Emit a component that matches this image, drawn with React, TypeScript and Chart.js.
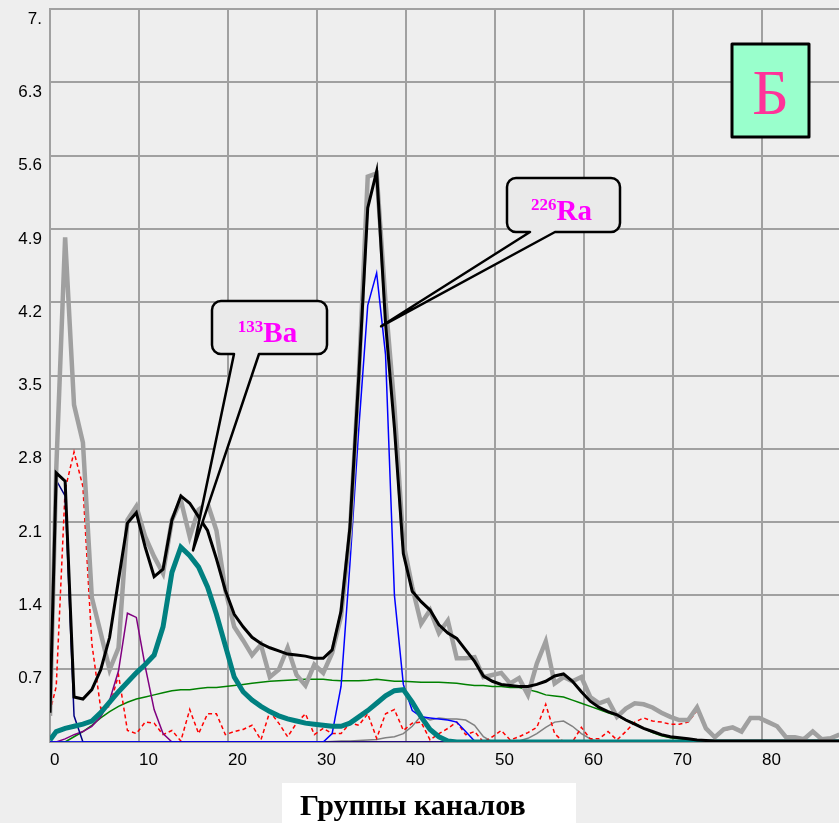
import React, { useEffect, useRef } from 'react';
import { Chart, registerables } from 'chart.js';

Chart.register(...registerables);

// Channel-group positions of the samples (first sample sits at the axis origin)
const CHANNELS = [0,
  0.7, 1.7, 2.7, 3.7, 4.7, 5.7, 6.7, 7.7, 8.7, 9.7,
  10.7, 11.7, 12.7, 13.7, 14.7, 15.7, 16.7, 17.7, 18.7, 19.7,
  20.7, 21.7, 22.7, 23.7, 24.7, 25.7, 26.7, 27.7, 28.7, 29.7,
  30.7, 31.7, 32.7, 33.7, 34.7, 35.7, 36.7, 37.7, 38.7, 39.7,
  40.7, 41.7, 42.7, 43.7, 44.7, 45.7, 46.7, 47.7, 48.7, 49.7,
  50.7, 51.7, 52.7, 53.7, 54.7, 55.7, 56.7, 57.7, 58.7, 59.7,
  60.7, 61.7, 62.7, 63.7, 64.7, 65.7, 66.7, 67.7, 68.7, 69.7,
  70.7, 71.7, 72.7, 73.7, 74.7, 75.7, 76.7, 77.7, 78.7, 79.7,
  80.7, 81.7, 82.7, 83.7, 84.7, 85.7, 86.7, 87.7, 88.7];

// Measured spectrum (thick grey)
const MEASURED = [0.25,
  2.6, 4.82, 3.22, 2.86, 1.38, 1.04, 0.69, 0.9, 2.12, 2.25,
  1.96, 1.77, 1.61, 2.12, 2.31, 1.96, 2.22, 2.28, 2.02, 1.45,
  1.1, 0.97, 0.83, 0.93, 0.62, 0.69, 0.9, 0.64, 0.54, 0.74,
  0.66, 0.85, 1.2, 2.0, 3.5, 5.4, 5.43, 4.2, 3.2, 1.9,
  1.48, 1.13, 1.26, 1.04, 1.16, 0.8, 0.8, 0.81, 0.62, 0.64,
  0.66, 0.56, 0.61, 0.45, 0.75, 0.96, 0.56, 0.62, 0.58, 0.62,
  0.43, 0.37, 0.4, 0.24, 0.32, 0.37, 0.36, 0.33, 0.28, 0.24,
  0.21, 0.21, 0.33, 0.13, 0.045, 0.12, 0.14, 0.1, 0.23, 0.23,
  0.19, 0.15, 0.045, 0.045, 0.026, 0.1, 0.026, 0.035, 0.07];

// Total fit (black)
const FIT_TOTAL = [0.28,
  2.57, 2.49, 0.43, 0.41, 0.5, 0.69, 1.0, 1.55, 2.09, 2.19,
  1.86, 1.58, 1.65, 2.12, 2.35, 2.28, 2.15, 2.02, 1.75, 1.45,
  1.22, 1.1, 1.0, 0.94, 0.9, 0.87, 0.84, 0.83, 0.82, 0.8,
  0.8, 0.88, 1.25, 2.05, 3.5, 5.1, 5.45, 4.0, 3.0, 1.8,
  1.44, 1.34, 1.26, 1.12, 1.04, 0.99, 0.88, 0.77, 0.63, 0.58,
  0.55, 0.54, 0.53, 0.53, 0.55, 0.58, 0.63, 0.65, 0.58, 0.48,
  0.39, 0.33, 0.29, 0.26, 0.21, 0.17, 0.13, 0.1, 0.07, 0.05,
  0.04, 0.03, 0.02, 0.015, 0.01, 0.01, 0.01, 0.01, 0.01, 0.01,
  0.01, 0.01, 0.01, 0.01, 0.01, 0.01, 0.01, 0.01, 0.01];

// 133Ba component (teal)
const BA133 = [0.02,
  0.1, 0.13, 0.15, 0.17, 0.2, 0.28, 0.38, 0.48, 0.57, 0.66,
  0.74, 0.83, 1.1, 1.62, 1.86, 1.78, 1.67, 1.48, 1.22, 0.92,
  0.62, 0.48, 0.4, 0.34, 0.29, 0.25, 0.22, 0.2, 0.18, 0.17,
  0.16, 0.15, 0.15, 0.18, 0.24, 0.3, 0.37, 0.44, 0.49, 0.5,
  0.38, 0.24, 0.12, 0.05, 0.01, 0, 0, 0, 0, 0,
  0, 0, 0, 0, 0, 0, 0, 0, 0, 0,
  0, 0, 0, 0, 0, 0, 0, 0, 0, 0,
  0, 0, 0, 0, 0, 0, 0, 0, 0, 0,
  0, 0, 0, 0, 0, 0, 0, 0, 0];

// 226Ra component (blue)
const RA226 = [0,
  0, 0, 0, 0, 0, 0, 0, 0, 0, 0,
  0, 0, 0, 0, 0, 0, 0, 0, 0, 0,
  0, 0, 0, 0, 0, 0, 0, 0, 0, 0,
  0, 0.08, 0.53, 1.7, 3.0, 4.17, 4.48, 3.7, 1.4, 0.55,
  0.3, 0.24, 0.23, 0.22, 0.21, 0.19, 0.1, 0.01, 0, 0,
  0, 0, 0, 0, 0, 0, 0, 0, 0, 0,
  0, 0, 0, 0, 0, 0, 0, 0, 0, 0,
  0, 0, 0, 0, 0, 0, 0, 0, 0, 0,
  0, 0, 0, 0, 0, 0, 0, 0, 0];

// Low-energy component (navy)
const LOW_PEAK = [0.28,
  2.5, 2.35, 0.25, 0, 0, 0, 0, 0, 0, 0,
  0, 0, 0, 0, 0, 0, 0, 0, 0, 0,
  0, 0, 0, 0, 0, 0, 0, 0, 0, 0,
  0, 0, 0, 0, 0, 0, 0, 0, 0, 0,
  0, 0, 0, 0, 0, 0, 0, 0, 0, 0,
  0, 0, 0, 0, 0, 0, 0, 0, 0, 0,
  0, 0, 0, 0, 0, 0, 0, 0, 0, 0,
  0, 0, 0, 0, 0, 0, 0, 0, 0, 0,
  0, 0, 0, 0, 0, 0, 0, 0, 0];

// Component near channel 9 (purple)
const MID_PEAK = [0,
  0, 0.03, 0.07, 0.1, 0.15, 0.24, 0.4, 0.68, 1.23, 1.19,
  0.72, 0.31, 0.08, 0, 0, 0, 0, 0, 0, 0,
  0, 0, 0, 0, 0, 0, 0, 0, 0, 0,
  0, 0, 0, 0, 0, 0, 0, 0, 0, 0,
  0, 0, 0, 0, 0, 0, 0, 0, 0, 0,
  0, 0, 0, 0, 0, 0, 0, 0, 0, 0,
  0, 0, 0, 0, 0, 0, 0, 0, 0, 0,
  0, 0, 0, 0, 0, 0, 0, 0, 0, 0,
  0, 0, 0, 0, 0, 0, 0, 0, 0];

// Residual (red dashed)
const RESIDUAL = [0.29,
  0.53, 2.41, 2.77, 2.44, 0.94, 0.32, 0.34, 0.64, 0.11, 0.08,
  0.19, 0.18, 0.07, 0.11, 0.01, 0.31, 0.08, 0.27, 0.27, 0.07,
  0.1, 0.12, 0.16, 0.02, 0.29, 0.18, 0.05, 0.18, 0.27, 0.07,
  0.13, 0.08, 0.08, 0.18, 0.16, 0.27, 0.035, 0.27, 0.31, 0.11,
  0.18, 0.19, 0.02, 0.08, 0.13, 0.19, 0.07, 0.1, 0.0, 0.05,
  0.11, 0.02, 0.05, 0.09, 0.14, 0.36, 0.08, 0.0, 0.0, 0.14,
  0.03, 0.03, 0.1, 0.02, 0.1, 0.19, 0.23, 0.2, 0.19, 0.17,
  0.17, 0.19, 0.3, 0.12, 0.04, 0.11, 0.13, 0.09, 0.22, 0.22,
  0.18, 0.14, 0.04, 0.04, 0.02, 0.09, 0.02, 0.03, 0.06];

// Continuum background (green)
const BACKGROUND = [0,
  0, 0, 0.05, 0.1, 0.16, 0.23, 0.29, 0.34, 0.38, 0.41,
  0.43, 0.45, 0.47, 0.49, 0.5, 0.5, 0.51, 0.52, 0.52, 0.53,
  0.54, 0.55, 0.56, 0.57, 0.58, 0.585, 0.59, 0.595, 0.6, 0.6,
  0.6, 0.59, 0.585, 0.585, 0.585, 0.59, 0.6, 0.59, 0.58, 0.58,
  0.575, 0.57, 0.57, 0.57, 0.565, 0.56, 0.55, 0.54, 0.54, 0.53,
  0.53, 0.52, 0.52, 0.5, 0.48, 0.45, 0.44, 0.43, 0.4, 0.37,
  0.34, 0.31, 0.28, 0.25, 0.21, 0.18, 0.13, 0.09, 0.06, 0.04,
  0.03, 0.02, 0.01, 0, 0, 0, 0, 0, 0, 0,
  0, 0, 0, 0, 0, 0, 0, 0, 0];

// Other component (thin grey)
const OTHER = [0,
  0, 0, 0, 0, 0, 0, 0, 0, 0, 0,
  0, 0, 0, 0, 0, 0, 0, 0, 0, 0,
  0, 0, 0, 0, 0, 0, 0, 0, 0, 0,
  0, 0.005, 0.01, 0.01, 0.015, 0.02, 0.025, 0.04, 0.05, 0.08,
  0.15, 0.25, 0.21, 0.23, 0.22, 0.22, 0.21, 0.16, 0.05, 0,
  0, 0, 0.01, 0.035, 0.08, 0.14, 0.19, 0.2, 0.15, 0.08,
  0.03, 0, 0, 0, 0, 0, 0, 0, 0, 0,
  0, 0, 0, 0, 0, 0, 0, 0, 0, 0,
  0, 0, 0, 0, 0, 0, 0, 0, 0];

const X_TICKS = [0, 10, 20, 30, 40, 50, 60, 70, 80];
const X_LABELS = ['0', '10', '20', '30', '40', '50', '60', '70', '80'];
const Y_TICKS = [0, 0.7, 1.4, 2.1, 2.8, 3.5, 4.2, 4.9, 5.6, 6.3, 7];
const Y_LABELS = ['', '0.7', '1.4', '2.1', '2.8', '3.5', '4.2', '4.9', '5.6', '6.3', '7.'];
const X_TITLE = 'Группы каналов';
const PANEL_LETTER = 'Б';
const CALLOUTS = [
  { sup: '133', main: 'Ba', tipX: 16.07, tipY: 1.83 },
  { sup: '226', main: 'Ra', tipX: 37.2, tipY: 3.97 },
];

const toPoints = (vals: number[]) => vals.map((v, i) => ({ x: CHANNELS[i], y: v }));

const SERIF = '"Liberation Serif", "Times New Roman", serif';
const SANS = '"Liberation Sans", Arial, sans-serif';

function roundedCallout(ctx: CanvasRenderingContext2D, x: number, y: number, w: number, h: number, r: number,
  b1: number, b2: number, tx: number, ty: number) {
  ctx.beginPath();
  ctx.moveTo(x + r, y);
  ctx.lineTo(x + w - r, y);
  ctx.arcTo(x + w, y, x + w, y + r, r);
  ctx.lineTo(x + w, y + h - r);
  ctx.arcTo(x + w, y + h, x + w - r, y + h, r);
  ctx.lineTo(b2, y + h);
  ctx.lineTo(tx, ty);
  ctx.lineTo(b1, y + h);
  ctx.lineTo(x + r, y + h);
  ctx.arcTo(x, y + h, x, y + h - r, r);
  ctx.lineTo(x, y + r);
  ctx.arcTo(x, y, x + r, y, r);
  ctx.closePath();
  ctx.fillStyle = '#EAEAEA';
  ctx.fill();
  ctx.lineWidth = 2.5;
  ctx.strokeStyle = '#000000';
  ctx.lineJoin = 'round';
  ctx.stroke();
}

const annotations = {
  id: 'annotations',
  afterDraw(chart: any) {
    const ctx: CanvasRenderingContext2D = chart.ctx;
    const xs = chart.scales.x;
    const ys = chart.scales.y;
    ctx.save();

    // Callouts
    const boxes = [
      { x: 212, y: 301, w: 115, h: 53, b1: 234, b2: 259 },
      { x: 507, y: 178, w: 113, h: 54, b1: 530, b2: 555 },
    ];
    CALLOUTS.forEach((c, k) => {
      const b = boxes[k];
      const tx = xs.getPixelForValue(c.tipX);
      const ty = ys.getPixelForValue(c.tipY);
      roundedCallout(ctx, b.x, b.y, b.w, b.h, 9, b.b1, b.b2, tx, ty);
      ctx.fillStyle = '#FF00FF';
      ctx.textBaseline = 'alphabetic';
      ctx.textAlign = 'left';
      const supFont = `bold 17px ${SERIF}`;
      const mainFont = `bold 29px ${SERIF}`;
      ctx.font = supFont;
      const ws = ctx.measureText(c.sup).width;
      ctx.font = mainFont;
      const wm = ctx.measureText(c.main).width;
      const start = b.x + b.w / 2 - (ws + wm) / 2 - 2;
      const base = b.y + b.h - 12;
      ctx.font = supFont;
      ctx.fillText(c.sup, start, base - 10);
      ctx.font = mainFont;
      ctx.fillText(c.main, start + ws, base);
    });

    // Panel letter box
    ctx.fillStyle = '#99FFCC';
    ctx.fillRect(732, 44, 77, 93);
    ctx.lineWidth = 3;
    ctx.strokeStyle = '#000000';
    ctx.strokeRect(732, 44, 77, 93);
    ctx.fillStyle = '#FF3399';
    ctx.font = `64px ${SERIF}`;
    ctx.textAlign = 'center';
    ctx.textBaseline = 'alphabetic';
    ctx.fillText(PANEL_LETTER, 770.5, 114);

    // Axis title in white box
    ctx.fillStyle = '#FFFFFF';
    ctx.fillRect(282, 783, 294, 45);
    ctx.fillStyle = '#000000';
    ctx.font = `bold 30px ${SERIF}`;
    ctx.textAlign = 'left';
    ctx.fillText(X_TITLE, 300, 815);

    ctx.restore();
  },
};

export default function App() {
  const ref = useRef<HTMLCanvasElement>(null);
  useEffect(() => {
    document.body.style.margin = '0';
    document.body.style.background = '#EEEEEE';
    const line = (label: string, vals: number[], color: string, width: number, dash: number[] = []) => ({
      label,
      data: toPoints(vals),
      borderColor: color,
      backgroundColor: color,
      borderWidth: width,
      borderDash: dash,
      pointRadius: 0,
      tension: 0,
      fill: false,
    });
    const chart = new Chart(ref.current as HTMLCanvasElement, {
      type: 'line',
      data: {
        datasets: [
          line('Total fit', FIT_TOTAL, '#000000', 3),
          line('Measured', MEASURED, '#A0A0A0', 4.5),
          line('133Ba', BA133, '#008080', 5),
          line('226Ra', RA226, '#0000FF', 1.5),
          line('Low', LOW_PEAK, '#000080', 1.5),
          line('Mid', MID_PEAK, '#800080', 1.5),
          line('Residual', RESIDUAL, '#FF0000', 1.5, [4, 3]),
          line('Background', BACKGROUND, '#008000', 1.5),
          line('Other', OTHER, '#808080', 1.5),
        ],
      },
      options: {
        animation: false,
        responsive: false,
        events: [],
        layout: { padding: { top: 9, left: 0, right: 0, bottom: 0 } },
        plugins: { legend: { display: false }, tooltip: { enabled: false }, title: { display: false } },
        scales: {
          x: {
            type: 'linear',
            min: 0,
            max: 88.65,
            afterBuildTicks: (s: any) => { s.ticks = X_TICKS.map((v) => ({ value: v })); },
            afterFit: (s: any) => { s.height = 81; s.paddingLeft = 0; s.paddingRight = 0; },
            grid: { color: '#A0A0A0', lineWidth: 2, drawTicks: false },
            border: { display: true, color: '#A0A0A0', width: 2 },
            ticks: {
              align: 'start',
              padding: 8,
              maxRotation: 0,
              autoSkip: false,
              color: '#000000',
              font: { family: SANS, size: 17 },
              callback: (_v: any, i: number) => X_LABELS[i],
            },
          },
          y: {
            type: 'linear',
            min: 0,
            max: 7,
            afterBuildTicks: (s: any) => { s.ticks = Y_TICKS.map((v) => ({ value: v })); },
            afterFit: (s: any) => { s.width = 50; s.paddingTop = 0; s.paddingBottom = 0; },
            grid: { color: '#A0A0A0', lineWidth: 2, drawTicks: false },
            border: { display: true, color: '#A0A0A0', width: 2 },
            ticks: {
              padding: 8,
              labelOffset: 10,
              autoSkip: false,
              color: '#000000',
              font: { family: SANS, size: 17 },
              callback: (_v: any, i: number) => Y_LABELS[i],
            },
          },
        },
      } as any,
      plugins: [annotations],
    });
    return () => chart.destroy();
  }, []);
  return (
    <div style={{ position: 'fixed', left: 0, top: 0, width: 839, height: 823, background: '#EEEEEE' }}>
      <canvas ref={ref} width={839} height={823} style={{ display: 'block' }} />
    </div>
  );
}
